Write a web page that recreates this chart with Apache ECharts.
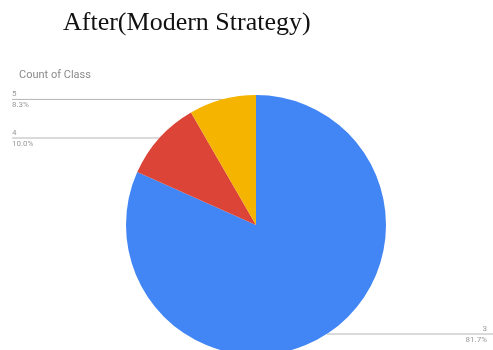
<!DOCTYPE html>
<html>
<head>
<meta charset="utf-8">
<script src="https://cdn.jsdelivr.net/npm/echarts@6/dist/echarts.min.js"></script>
<style>
  html, body { margin: 0; padding: 0; background: #fff; }
  #caption { position: absolute; left: 63px; top: 7px; font-family: "Liberation Serif", "DejaVu Serif", serif; font-size: 26px; color: #111; white-space: nowrap; }
  #chart { position: absolute; left: 0; top: 0; width: 493px; height: 350px; }
</style>
</head>
<body>
<div id="chart"></div>
<div id="caption">After(Modern Strategy)</div>
<script>
// Class counts after the modern strategy
const classNames = ['3', '4', '5'];
const classCounts = [49, 6, 5];
const sliceColors = ['#4285F4', '#DB4437', '#F4B400'];

const W = 493;
const chart = echarts.init(document.getElementById('chart'), null, { renderer: 'canvas' });

chart.setOption({
  animation: false,
  title: {
    text: 'Count of Class',
    left: 14,
    top: 65,
    textStyle: { fontFamily: 'Roboto', fontSize: 11, fontWeight: 'normal', color: '#8a8a8a' }
  },
  series: [{
    type: 'pie',
    center: [256, 225],
    radius: 130,
    startAngle: 90,
    clockwise: true,
    data: classNames.map((n, i) => ({ name: n, value: classCounts[i], itemStyle: { color: sliceColors[i] } })),
    label: {
      show: true,
      position: 'outside',
      formatter: p => '{n|' + p.name + '}\n{p|' + p.percent.toFixed(1) + '%}',
      rich: {
        n: { fontFamily: 'Roboto', fontSize: 8, color: '#9a9a9a', lineHeight: 11 },
        p: { fontFamily: 'Roboto', fontSize: 8, color: '#9a9a9a', lineHeight: 11 }
      }
    },
    labelLine: { show: true, length: 10, length2: 10, lineStyle: { color: '#b5b5b5', width: 1 } },
    labelLayout: function (params) {
      const pts = params.labelLinePoints;
      if (!pts) return {};
      const p0 = pts[0];
      const onRight = p0[0] > 256;
      const edgeX = onRight ? W : 12;
      return {
        x: onRight ? W - 6 : 12,
        y: p0[1],
        align: onRight ? 'right' : 'left',
        verticalAlign: 'middle',
        labelLinePoints: [p0, [edgeX, p0[1]], [edgeX, p0[1]]]
      };
    }
  }]
});
</script>
</body>
</html>
